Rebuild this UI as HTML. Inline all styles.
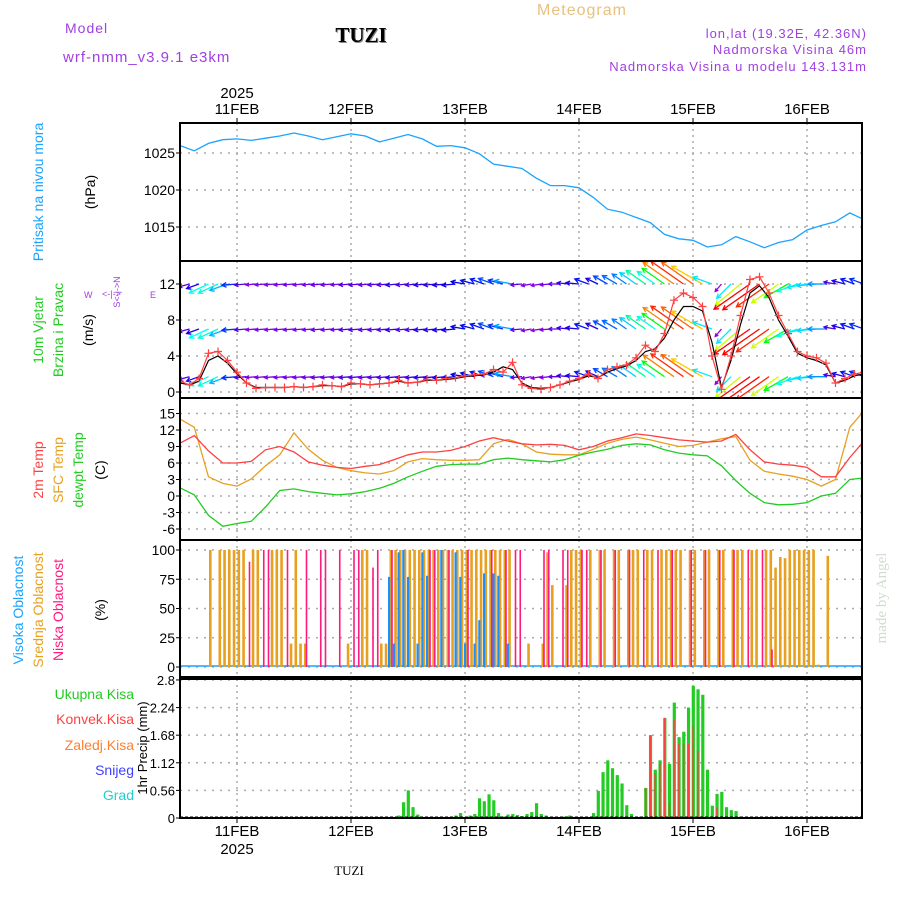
<!DOCTYPE html>
<html><head><meta charset="utf-8"><style>
html,body{margin:0;padding:0;background:#fff;}
svg{display:block;font-family:"Liberation Sans",sans-serif;}
</style></head><body>
<svg id="chart" width="900" height="900" viewBox="0 0 900 900" xmlns="http://www.w3.org/2000/svg">
<defs>
<clipPath id="c1"><rect x="180" y="123" width="682" height="138"/></clipPath>
<clipPath id="c2"><rect x="180" y="262" width="682" height="136"/></clipPath>
<clipPath id="c3"><rect x="180" y="399" width="682" height="140"/></clipPath>
<clipPath id="c5"><rect x="180" y="680" width="682" height="138"/></clipPath>
</defs>
<g font-size="14" letter-spacing="1">
<text x="65" y="33" fill="#a040e0">Model</text>
<text x="63" y="62" fill="#a040e0" font-size="15">wrf-nmm_v3.9.1 e3km</text>
<text x="362" y="43" text-anchor="middle" font-family="Liberation Serif" font-weight="bold" font-size="21" fill="#888" letter-spacing="0">TUZI</text>
<text x="361" y="42" text-anchor="middle" font-family="Liberation Serif" font-weight="bold" font-size="21" fill="#000" letter-spacing="0">TUZI</text>
<text x="582" y="15" text-anchor="middle" fill="#e8c080" font-size="16">Meteogram</text>
<text x="867" y="38" text-anchor="end" fill="#a040e0" font-size="13">lon,lat (19.32E, 42.36N)</text>
<text x="867" y="54" text-anchor="end" fill="#a040e0" font-size="13">Nadmorska Visina 46m</text>
<text x="867" y="71" text-anchor="end" fill="#a040e0" font-size="13">Nadmorska Visina u modelu 143.131m</text>
</g>
<g id="xaxes" font-size="15" fill="#000"></g>
<g id="grid"></g>
<g id="marks"></g>
<g id="frames"></g>
<g font-size="14">
<text transform="translate(43,192) rotate(-90)" text-anchor="middle" fill="#1aa3ff">Pritisak na nivou mora</text>
<text transform="translate(95,192) rotate(-90)" text-anchor="middle" fill="#000">(hPa)</text>
<text transform="translate(43,330) rotate(-90)" text-anchor="middle" fill="#22cc22">10m Vjetar</text>
<text transform="translate(63,330) rotate(-90)" text-anchor="middle" fill="#22cc22">Brzina i Pravac</text>
<text transform="translate(93,330) rotate(-90)" text-anchor="middle" fill="#000">(m/s)</text>
<g fill="#a040e0" font-size="9">
<text transform="translate(120,292) rotate(-90)" text-anchor="middle">S&lt;-|-&gt;N</text>
<text x="84" y="298">W</text><text x="150" y="298">E</text>
<text x="102" y="297">&lt;-|-&gt;</text>
</g>
<text transform="translate(43,470) rotate(-90)" text-anchor="middle" fill="#ff4040">2m Temp</text>
<text transform="translate(63,470) rotate(-90)" text-anchor="middle" fill="#e8a020">SFC Temp</text>
<text transform="translate(83,470) rotate(-90)" text-anchor="middle" fill="#22cc22">dewpt Temp</text>
<text transform="translate(105,470) rotate(-90)" text-anchor="middle" fill="#000">(C)</text>
<text transform="translate(23,610) rotate(-90)" text-anchor="middle" fill="#1aa3ff">Visoka Oblacnost</text>
<text transform="translate(43,610) rotate(-90)" text-anchor="middle" fill="#e8a020">Srednja Oblacnost</text>
<text transform="translate(63,610) rotate(-90)" text-anchor="middle" fill="#ff1a80">Niska Oblacnost</text>
<text transform="translate(105,610) rotate(-90)" text-anchor="middle" fill="#000">(%)</text>
<text x="134" y="699" text-anchor="end" fill="#22cc22">Ukupna Kisa</text>
<text x="134" y="724" text-anchor="end" fill="#ff4040">Konvek.Kisa</text>
<text x="134" y="750" text-anchor="end" fill="#ff8030">Zaledj.Kisa</text>
<text x="134" y="775" text-anchor="end" fill="#4040ff">Snijeg</text>
<text x="134" y="800" text-anchor="end" fill="#20d0d0">Grad</text>
<text transform="translate(147,748) rotate(-90)" text-anchor="middle" fill="#000" font-size="13">1hr Precip (mm)</text>
<text transform="translate(886,598) rotate(-90)" text-anchor="middle" fill="#d0dcd0" font-family="Liberation Serif" font-size="15">made by Angel</text>
<text x="349" y="875" text-anchor="middle" font-family="Liberation Serif" font-size="13" fill="#000">TUZI</text>
</g>
</svg>
<script>
var dayLabels=["11FEB","12FEB","13FEB","14FEB","15FEB","16FEB"];
var dayHours=[12,36,60,84,108,132];
var presTicks=[1025,1020,1015];
var windTicks=[12,8,4,0];
var tempTicks=[15,12,9,6,3,0,-3,-6];
var cloudTicks=[100,75,50,25,0];
var precipTicks=[2.8,2.24,1.68,1.12,0.56,0];
var pres=[1026.0,1025.3,1026.3,1026.8,1026.9,1026.7,1027.0,1027.3,1027.7,1027.3,1026.8,1027.2,1027.6,1027.3,1026.5,1027.0,1027.5,1026.9,1025.9,1026.0,1025.7,1024.9,1023.5,1023.2,1022.9,1021.6,1020.6,1020.6,1020.3,1019.0,1017.4,1017.0,1016.3,1015.6,1014.0,1013.4,1013.2,1012.3,1012.6,1013.7,1013.0,1012.2,1012.9,1013.3,1014.6,1015.2,1015.7,1016.9,1016.0];
var t2m=[9.6,11.0,8.2,6.0,6.0,6.3,8.4,9.0,8.0,6.2,5.6,5.2,5.0,5.4,5.7,6.6,7.5,8.0,8.0,8.3,9.0,10.0,10.6,10.0,9.5,9.3,9.4,9.2,8.4,9.0,10.0,10.6,11.3,11.0,10.6,10.2,10.0,9.8,10.0,11.2,8.4,6.2,5.8,5.6,5.2,3.5,3.5,7.0,10.0];
var tsfc=[14.0,12.5,3.5,2.3,1.8,3.1,5.5,7.5,11.5,8.5,6.5,5.2,4.6,4.2,4.0,4.6,6.2,6.8,6.6,6.5,6.5,6.6,9.5,10.3,9.5,8.0,7.6,7.5,7.5,8.5,9.6,10.3,10.7,10.2,9.6,9.0,9.2,9.8,10.4,10.8,6.5,4.5,4.0,3.6,3.0,1.8,3.0,12.5,15.5];
var tdew=[1.5,0.2,-3.5,-5.5,-5.0,-4.6,-2.0,1.0,1.3,0.8,0.5,0.2,0.4,0.8,1.4,2.3,3.5,4.5,5.4,5.7,5.8,5.8,6.6,6.9,6.6,6.4,6.2,6.6,7.4,8.0,8.5,9.2,9.5,9.3,8.4,7.8,7.5,7.3,5.5,2.8,0.5,-1.2,-1.6,-1.5,-1.2,0.0,0.5,3.0,3.3];
var windSpd=[1.2,0.8,1.5,4.3,4.5,3.5,2.2,1.0,0.4,0.5,0.5,0.5,0.6,0.5,0.6,0.8,0.7,0.6,1.0,0.9,0.8,0.9,1.0,1.3,1.0,1.1,1.4,1.3,1.5,1.6,1.8,1.9,2.0,2.5,2.2,3.3,0.8,0.4,0.3,0.5,0.8,1.2,1.5,2.0,1.5,2.5,2.8,3.0,3.8,5.2,4.5,6.5,10.2,11.0,10.5,9.5,4.0,0.3,4.0,8.5,12.5,12.8,11.0,8.5,6.5,4.5,4.0,3.8,3.2,1.0,1.5,2.0,2.2];
var windAvg=[1.0,0.8,1.2,3.5,4.0,3.2,2.0,1.0,0.5,0.5,0.5,0.5,0.6,0.5,0.6,0.7,0.7,0.6,0.9,0.9,0.8,0.9,1.0,1.2,1.0,1.1,1.3,1.3,1.4,1.5,1.7,1.8,1.9,2.2,2.8,2.5,1.0,0.5,0.4,0.5,0.8,1.1,1.4,1.8,1.6,2.2,2.6,2.9,3.5,4.5,4.8,6.0,8.0,9.5,9.5,9.0,5.5,0.5,3.5,7.5,11.0,11.8,10.5,8.0,6.2,4.3,3.8,3.5,3.0,1.0,1.3,1.8,2.0];
var windDir=[185,195,200,205,205,200,185,185,185,185,185,185,185,185,185,185,185,185,185,185,185,185,185,185,185,185,185,185,185,185,170,165,160,160,165,170,185,190,190,185,180,175,175,160,155,150,150,145,145,145,145,145,145,145,145,150,160,230,225,220,215,215,215,215,210,200,190,185,180,170,165,160,160];
var windRowLevels=[12,7,1.7];
var cloudMid=[0,0,0,0,0,0,100,0,100,100,100,100,
100,100,0,100,100,0,0,100,100,100,0,20,
100,20,20,0,0,0,0,0,0,0,0,20,
0,0,100,100,0,0,20,20,100,100,100,100,
100,100,100,100,100,100,100,100,100,100,100,100,
100,100,100,100,100,100,100,100,100,100,0,0,
0,20,0,0,20,98,70,0,0,70,100,100,
100,0,100,0,100,100,0,100,100,0,100,100,
100,0,100,100,0,100,100,100,100,100,0,100,
100,0,100,100,0,100,100,0,100,100,100,0,
100,100,0,100,100,85,94,93,100,100,100,100,
100,100,2,0,95,0,0,0,0,0,0,0];
var cloudLowHours=[14,17,18,22,26,29,30,33,36,37,40,41,44,52,53,56,60,65,68,70,71,76,77,80,81,84,85,88,91,94,97,100,103,107,110,113,116,119,122,124];
var cloudLowVals=[90,100,100,100,100,100,100,100,100,100,85,100,100,100,100,100,100,100,100,100,100,100,100,100,100,100,100,100,100,100,100,100,100,100,100,100,100,100,100,15];
var cloudHighHours=[44,45,46,47,48,50,51,52,55,58,59,60,62,63,64,66,67,69];
var cloudHighVals=[77,20,98,100,77,20,98,78,100,98,77,20,20,40,80,80,78,20];
var precipHours=[46,47,48,49,50,58,59,61,62,63,64,65,66,67,68,69,70,71,72,73,74,75,76,77,81,82,87,88,89,90,91,92,93,94,95,97,98,99,100,101,102,103,104,105,106,107,108,109,110,111,112,113,114,115,116,117,118];
var precipTotal=[0.05,0.32,0.56,0.22,0.07,0.05,0.1,0.05,0.08,0.4,0.34,0.48,0.36,0.1,0.03,0.07,0.08,0.06,0.04,0.08,0.12,0.3,0.08,0.05,0.03,0.05,0.1,0.55,0.93,1.17,1.01,0.87,0.7,0.26,0.08,0.03,0.61,1.68,0.98,1.17,2.03,1.1,2.34,1.64,1.75,2.24,2.68,2.61,2.5,0.98,0.25,0.49,0.53,0.22,0.16,0.14,0.03];
var precipConv=[0,0,0,0,0,0,0,0,0,0,0,0,0,0,0,0,0,0,0,0,0,0,0,0,0,0,0,0,0,0,0,0,0,0,0,0,0.61,1.68,0.9,1.1,2.03,0.3,2.0,1.5,1.5,1.5,1.86,1.36,0,0,0,0.2,0,0,0,0,0];

var NS="http://www.w3.org/2000/svg";
var X0=180,X1=862,PXH=4.75;
function xOf(h){return X0+h*PXH;}
function yPres(v){return 153+(1025-v)*7.4;}
function yWind(v){return 392-v*9;}
function yTemp(v){return 496-v*5.5;}
function yCloud(v){return 667-v*1.17;}
function yPrecip(v){return 818-v*49.3;}
function el(tag,attrs,parent){var e=document.createElementNS(NS,tag);for(var k in attrs)e.setAttribute(k,attrs[k]);(parent||document.getElementById('marks')).appendChild(e);return e;}
var grid=document.getElementById('grid'),frames=document.getElementById('frames'),xaxes=document.getElementById('xaxes');
var panels=[[123,261],[261,398],[398,540],[540,677],[679,818]];
panels.forEach(function(p){dayHours.forEach(function(h){
 var l=el('line',{x1:xOf(h),x2:xOf(h),y1:p[0],y2:p[1],stroke:'#aaa','stroke-width':1.5,'stroke-dasharray':'2,4'},grid);
 
 
});});
function yTicks(ticks,fy,fmt,fs){ticks.forEach(function(t){
 var y=fy(t);
 var g=el('line',{x1:X0,x2:X1,y1:y,y2:y,stroke:'#aaa','stroke-width':1.5,'stroke-dasharray':'2,6'},grid);
 
 
 el('line',{x1:X0-4,x2:X0,y1:y,y2:y,stroke:'#000'},grid);
 var tx=el('text',{x:X0-5,y:y+5,'text-anchor':'end','font-size':fs||14,fill:'#000'},grid);
 
 
 tx.textContent=fmt?fmt(t):t;
});}
yTicks(presTicks,yPres);yTicks(windTicks,yWind);yTicks(tempTicks,yTemp);yTicks(cloudTicks,yCloud);
yTicks(precipTicks,yPrecip,function(t){return t===0?'0':String(t);},13);
panels.forEach(function(p){
 var r=el('rect',{x:X0,y:p[0],width:X1-X0,height:p[1]-p[0],fill:'none',stroke:'#000','stroke-width':2},frames);
 
 
});
dayLabels.forEach(function(d,i){
 var x=xOf(dayHours[i]);
 var t=el('text',{x:x,y:114,'text-anchor':'middle'},xaxes);t.textContent=d;
 
 
 var b=el('text',{x:x,y:836,'text-anchor':'middle'},xaxes);b.textContent=d;
 
 
 el('line',{x1:x,x2:x,y1:123,y2:118,stroke:'#000'},xaxes);
 el('line',{x1:x,x2:x,y1:818,y2:823,stroke:'#000'},xaxes);
});
var y1=el('text',{x:xOf(12),y:98,'text-anchor':'middle'},xaxes);y1.textContent='2025';


var y2=el('text',{x:xOf(12),y:854,'text-anchor':'middle'},xaxes);y2.textContent='2025';


function line(vals,step,fy,color,clip,name,w){
 var d=vals.map(function(v,i){return (i?'L':'M')+xOf(i*step).toFixed(1)+','+fy(v).toFixed(1);}).join('');
 var p=el('path',{d:d,fill:'none',stroke:color,'stroke-width':w||1.3,'clip-path':'url(#'+clip+')'});
 
 
 return p;
}
line(pres,3,yPres,'#1aa3ff','c1','pressure-line');
function hueFor(s){var h=285-25*s;return h<0?0:h;}
var wg=el('g',{'clip-path':'url(#c2)'});


windRowLevels.forEach(function(lv){
 windSpd.forEach(function(s,i){
  var x1=xOf(i*2),y1=yWind(lv),L=9+s*2.8,a=windDir[i]*Math.PI/180;
  var x2=x1+Math.cos(a)*L,y2=y1-Math.sin(a)*L;
  var col='hsl('+hueFor(s)+',100%,'+(s<2?45:50)+'%)';
  var hl=Math.min(5,L*0.35),ang=Math.atan2(y2-y1,x2-x1);
  var d='M'+x1.toFixed(1)+','+y1.toFixed(1)+'L'+x2.toFixed(1)+','+y2.toFixed(1)+
   'M'+(x2-hl*Math.cos(ang-0.5)).toFixed(1)+','+(y2-hl*Math.sin(ang-0.5)).toFixed(1)+'L'+x2.toFixed(1)+','+y2.toFixed(1)+
   'L'+(x2-hl*Math.cos(ang+0.5)).toFixed(1)+','+(y2-hl*Math.sin(ang+0.5)).toFixed(1);
  var p=el('path',{d:d,stroke:col,'stroke-width':1.3,fill:'none'},wg);
  
  
 });
});
line(windAvg,2,yWind,'#000','c2','wind-mean-line',1.2);
line(windSpd,2,yWind,'#ff4040','c2','wind-speed-line',1.2);
windSpd.forEach(function(s,i){
 var x=xOf(i*2),y=yWind(s);
 var m=el('path',{d:'M'+(x-4)+','+y+'L'+(x+4)+','+y+'M'+x+','+(y-4)+'L'+x+','+(y+4),stroke:'#ff4040','stroke-width':1.2,'clip-path':'url(#c2)'});
 
 
});
line(tsfc,3,yTemp,'#e8a020','c3','sfc-temp-line');
line(t2m,3,yTemp,'#ff4040','c3','temp-2m-line');
line(tdew,3,yTemp,'#22cc22','c3','dewpoint-line');
el('line',{x1:X0,x2:X1,y1:666,y2:666,stroke:'#1aa3ff','stroke-width':1.5});
cloudMid.forEach(function(v,h){ if(!v)return;
 var r=el('rect',{x:xOf(h)+0.5,y:yCloud(v),width:2.6,height:yCloud(0)-yCloud(v),fill:'#e8a020'});
 
 
});
cloudLowHours.forEach(function(h,i){var v=cloudLowVals[i];
 var r=el('rect',{x:xOf(h)+2.2,y:yCloud(v),width:1.6,height:yCloud(0)-yCloud(v),fill:'#ff1a80'});
 
 
});
cloudHighHours.forEach(function(h,i){var v=cloudHighVals[i];
 var r=el('rect',{x:xOf(h)-1,y:yCloud(v),width:2.2,height:yCloud(0)-yCloud(v),fill:'#1a90ff'});
 
 
});
precipHours.forEach(function(h,i){
 var v=precipTotal[i];
 var r=el('rect',{x:xOf(h)-1.3,y:yPrecip(v),width:3.2,height:yPrecip(0)-yPrecip(v),fill:'#22cc22','clip-path':'url(#c5)'});
 
 
 var c=precipConv[i];
 if(c>0){var rc=el('rect',{x:xOf(h)-0.6,y:yPrecip(c),width:1.4,height:yPrecip(0)-yPrecip(c),fill:'#ff4040','clip-path':'url(#c5)'});
 
 }
});
el('line',{x1:X0,x2:X1,y1:817,y2:817,stroke:'#000','stroke-width':1,'stroke-dasharray':'3,2'});
</script>
</body></html>
